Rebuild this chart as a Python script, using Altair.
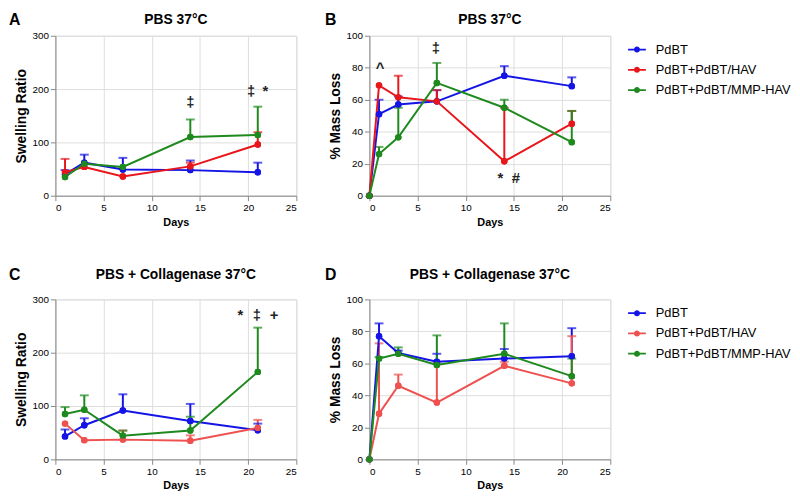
import altair as alt
import pandas as pd

FONT = "Liberation Sans"
SERIES = ["PdBT", "PdBT+PdBT/HAV", "PdBT+PdBT/MMP-HAV"]
COLORS_TOP = ["#1414e6", "#e8161b", "#1e8a1e"]
COLORS_BOT = ["#1414e6", "#ef5050", "#1e8a1e"]

# ---- Panel A: swelling ratio, PBS 37C ----
A_DAYS = [1, 3, 7, 14, 21]
A_PDBT = [40, 62, 49, 48, 44]
A_PDBT_UP = [48, 77, 71, 66, 62]
A_HAV = [44, 54, 36, 55, 96]
A_HAV_UP = [69, None, None, 62, 119]
A_MMP = [35, 60, 54, 110, 114]
A_MMP_UP = [None, None, None, 143, 167]
A_ANN_DAY = [14, 20.3, 21.8]
A_ANN_VAL = [176, 196, 196]
A_ANN_TXT = ["‡", "‡", "*"]

# ---- Panel B: % mass loss, PBS 37C ----
B_DAYS = [0, 1, 3, 7, 14, 21]
B_PDBT = [0, 51, 57, 59, 75, 68.5]
B_PDBT_UP = [None, 60, 62, 66, 81, 74]
B_HAV = [0, 69, 61.5, 59, 21.5, 45]
B_HAV_UP = [None, None, 75, 66, 55, 53]
B_MMP = [0, 26, 36.5, 70.5, 55, 33.5]
B_MMP_UP = [None, 30.5, 55, 83, 60, 53]
B_ANN_DAY = [1.1, 6.9, 13.6, 15.2]
B_ANN_VAL = [80, 92, 11, 11]
B_ANN_TXT = ["^", "‡", "*", "#"]

# ---- Panel C: swelling ratio, PBS + collagenase ----
C_DAYS = [1, 3, 7, 14, 21]
C_PDBT = [43, 64, 91.5, 72, 54.5]
C_PDBT_UP = [56, 77, 122, 104, 67]
C_HAV = [67, 36, 37, 35, 59]
C_HAV_UP = [None, None, 54, 45, 74]
C_MMP = [85, 93, 44.5, 54, 164]
C_MMP_UP = [98, 120, 54, 80, 247]
C_ANN_DAY = [19.2, 20.9, 22.7]
C_ANN_VAL = [270, 270, 270]
C_ANN_TXT = ["*", "‡", "+"]

# ---- Panel D: % mass loss, PBS + collagenase ----
D_DAYS = [0, 1, 3, 7, 14, 21]
D_PDBT = [0, 77, 66.5, 61, 63, 64.5]
D_PDBT_UP = [None, 85, 68, 66, 69, 82]
D_HAV = [0, 28.5, 46, 35.5, 58.5, 47.5]
D_HAV_UP = [None, 72.5, 53, 60, 61, 77]
D_MMP = [0, 63, 66, 59, 66, 52]
D_MMP_UP = [None, 64, 70, 77.5, 85, 63]

LEGEND_SYMBOL = ("M-1,-0.1H1V0.1H-1Z"
                 "M0.34,0A0.34,0.34,0,1,1,-0.34,0A0.34,0.34,0,1,1,0.34,0Z")

W, H = 244, 162


def make_df(days, series_vals):
    rows = []
    for name, (vals, ups) in zip(SERIES, series_vals):
        for d, v, u in zip(days, vals, ups):
            rows.append({"day": d, "value": v, "upper": u, "series": name})
    return pd.DataFrame(rows)


def panel(df, ann, ytitle, ymax, ystep, title, letter, letter_x, head_y,
          colors, show_legend):
    xs = alt.Scale(domain=[0, 25], nice=False)
    ys = alt.Scale(domain=[0, ymax], nice=False)
    xax = alt.Axis(values=[0, 5, 10, 15, 20, 25], title="Days")
    yax = alt.Axis(values=list(range(0, ymax + 1, ystep)), title=ytitle,
                   titleFontSize=14)
    if show_legend:
        leg = alt.Legend(title=None, symbolType=LEGEND_SYMBOL, symbolSize=324,
                         symbolStrokeWidth=0, labelFont=FONT, labelFontSize=13,
                         labelColor="black", rowPadding=4.5, orient="none",
                         legendX=W + 18, legendY=5, labelOffset=10)
    else:
        leg = None
    col = alt.Color("series:N", scale=alt.Scale(domain=SERIES, range=colors),
                    legend=leg, sort=SERIES)
    X = alt.X("day:Q", scale=xs, axis=xax)
    Y = alt.Y("value:Q", scale=ys, axis=yax)
    base = alt.Chart(df)
    pts0 = base.mark_circle(size=42, opacity=1).encode(x=X, y=Y, color=col)
    err = base.transform_filter("isValid(datum.upper)")
    rules = err.mark_rule(strokeWidth=2).encode(
        x=X, y=Y, y2="upper:Q", color=col)
    caps = err.mark_tick(orient="horizontal", size=9, thickness=2).encode(
        x=X, y=alt.Y("upper:Q", scale=ys, axis=yax), color=col)
    lines = base.mark_line(strokeWidth=2).encode(x=X, y=Y, color=col)
    pts = base.mark_circle(size=42, opacity=1).encode(x=X, y=Y, color=col)
    layers = [pts0, rules, caps, lines, pts]
    if ann is not None:
        adf = pd.DataFrame({"day": ann[0], "value": ann[1], "label": ann[2]})
        txt = alt.Chart(adf).mark_text(font=FONT, fontSize=15, fontWeight="bold",
                                       color="#222").encode(
            x=alt.X("day:Q", scale=xs, axis=xax),
            y=alt.Y("value:Q", scale=ys, axis=yax), text="label:N")
        layers.append(txt)
    lab = alt.Chart(pd.DataFrame({"t": [letter]})).mark_text(
        font=FONT, fontSize=16, fontWeight="bold", align="left",
        baseline="middle", color="black").encode(
        x=alt.value(letter_x), y=alt.value(head_y), text="t:N")
    ttl = alt.Chart(pd.DataFrame({"t": [title]})).mark_text(
        font=FONT, fontSize=14, fontWeight="bold", align="center",
        baseline="middle", color="black").encode(
        x=alt.value(W / 2), y=alt.value(head_y), text="t:N")
    layers += [lab, ttl]
    return alt.layer(*layers).properties(width=W, height=H)


dfA = make_df(A_DAYS, [(A_PDBT, A_PDBT_UP), (A_HAV, A_HAV_UP), (A_MMP, A_MMP_UP)])
dfB = make_df(B_DAYS, [(B_PDBT, B_PDBT_UP), (B_HAV, B_HAV_UP), (B_MMP, B_MMP_UP)])
dfC = make_df(C_DAYS, [(C_PDBT, C_PDBT_UP), (C_HAV, C_HAV_UP), (C_MMP, C_MMP_UP)])
dfD = make_df(D_DAYS, [(D_PDBT, D_PDBT_UP), (D_HAV, D_HAV_UP), (D_MMP, D_MMP_UP)])

pA = panel(dfA, (A_ANN_DAY, A_ANN_VAL, A_ANN_TXT), "Swelling Ratio", 300, 100,
           "PBS 37°C", "A", -47, -16, COLORS_TOP, False)
pB = panel(dfB, (B_ANN_DAY, B_ANN_VAL, B_ANN_TXT), "% Mass Loss", 100, 20,
           "PBS 37°C", "B", -45, -16, COLORS_TOP, True)
pC = panel(dfC, (C_ANN_DAY, C_ANN_VAL, C_ANN_TXT), "Swelling Ratio", 300, 100,
           "PBS + Collagenase 37°C", "C", -47, -25, COLORS_BOT, False)
pD = panel(dfD, None, "% Mass Loss", 100, 20,
           "PBS + Collagenase 37°C", "D", -45, -25, COLORS_BOT, True)

top = alt.hconcat(pA, pB, spacing=27).resolve_scale(color="independent").resolve_legend(color="independent")
bot = alt.hconcat(pC, pD, spacing=27).resolve_scale(color="independent").resolve_legend(color="independent")

chart = alt.vconcat(top, bot, spacing=38).resolve_scale(
    color="independent").resolve_legend(color="independent").properties(
    padding={"left": 0, "top": 0, "right": 0, "bottom": 0}
).configure_view(
    stroke=None).configure_axis(
    grid=False, domainColor="black", domainWidth=2, tickColor="black",
    tickWidth=2, tickSize=5, labelFont=FONT, labelFontSize=12,
    labelFontWeight="bold", labelColor="black", labelPadding=2,
    titleFont=FONT, titleFontSize=13, titleFontWeight="bold",
    titleColor="black", titlePadding=4).configure(background="white")

chart.save("out.html", embed_options={"renderer": "svg", "actions": False})
